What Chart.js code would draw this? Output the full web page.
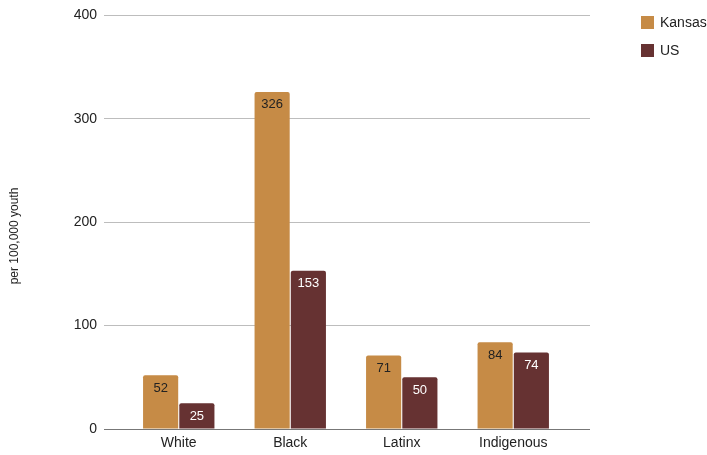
<!DOCTYPE html>
<html>
<head>
<meta charset="utf-8">
<script src="https://cdn.jsdelivr.net/npm/chart.js@4"></script>
<style>
  html, body { margin: 0; padding: 0; background: #fff; }
  #wrap { position: relative; width: 707px; height: 455px; }
  #legend { position: absolute; left: 641px; top: 15px; font: 14px "Liberation Sans", Arial, sans-serif; color: #222; }
  #legend div { display: flex; align-items: center; height: 14px; margin-bottom: 14px; }
  #legend span.box { display: inline-block; width: 13px; height: 13px; margin-right: 6px; }
</style>
</head>
<body>
<div id="wrap">
  <canvas id="chart" width="707" height="455"></canvas>
  <div id="legend"></div>
</div>
<script>
const categories = ['White', 'Black', 'Latinx', 'Indigenous'];
const kansasValues = [52, 326, 71, 84];
const usValues = [25, 153, 50, 74];
const seriesNames = ['Kansas', 'US'];
const seriesColors = ['#C68B46', '#663232'];
const labelColors = ['#222222', '#ffffff'];
const yTicks = [0, 100, 200, 300, 400];
const yTitle = 'per 100,000 youth';

const FONT = '"Liberation Sans", Arial, sans-serif';
const lineColor = v => (v === 0 ? '#777777' : '#bdbdbd');

// grid lines reach a bit past the bars on the right, plus the axis title
const gridExtend = {
  id: 'gridExtend',
  beforeDatasetsDraw(chart) {
    const { ctx, chartArea, scales } = chart;
    ctx.save();
    ctx.lineWidth = 1;
    yTicks.forEach(v => {
      // same pixel snapping as chart.js uses for its grid
      const y = Math.round(scales.y.getPixelForValue(v) - 0.5) + 0.5;
      ctx.strokeStyle = lineColor(v);
      ctx.beginPath();
      ctx.moveTo(chartArea.right, y);
      ctx.lineTo(chartArea.right + 21, y);
      ctx.stroke();
    });
    ctx.translate(15, 236);
    ctx.rotate(-Math.PI / 2);
    ctx.font = '12px ' + FONT;
    ctx.fillStyle = '#222';
    ctx.textAlign = 'center';
    ctx.textBaseline = 'middle';
    ctx.fillText(yTitle, 0, 0);
    ctx.restore();
  }
};

// value inside the top of each bar
const barLabels = {
  id: 'barLabels',
  afterDatasetsDraw(chart) {
    const { ctx } = chart;
    ctx.save();
    ctx.font = '13px ' + FONT;
    ctx.textAlign = 'center';
    ctx.textBaseline = 'middle';
    chart.data.datasets.forEach((ds, i) => {
      chart.getDatasetMeta(i).data.forEach((bar, j) => {
        ctx.fillStyle = labelColors[i];
        ctx.fillText(String(ds.data[j]), bar.x, bar.y + 13);
      });
    });
    ctx.restore();
  }
};

new Chart(document.getElementById('chart'), {
  type: 'bar',
  data: {
    labels: categories,
    datasets: [kansasValues, usValues].map((vals, i) => ({
      label: seriesNames[i],
      data: vals,
      backgroundColor: seriesColors[i],
      borderRadius: 2,
      borderSkipped: 'bottom',
      categoryPercentage: 0.65,
      barPercentage: 0.97
    }))
  },
  options: {
    responsive: false,
    animation: false,
    layout: { padding: { top: 15, right: 138, bottom: 0, left: 0 } },
    plugins: { legend: { display: false }, tooltip: { enabled: false } },
    scales: {
      x: {
        afterFit(scale) { scale.height = 26; },
        grid: { display: false, drawTicks: false },
        border: { display: false },
        ticks: { color: '#222', font: { size: 14, family: FONT }, padding: 6 }
      },
      y: {
        min: 0,
        max: 400,
        afterBuildTicks(scale) { scale.ticks = yTicks.map(v => ({ value: v })); },
        afterFit(scale) { scale.width = 123; },
        border: { display: false },
        grid: {
          color: ctx => lineColor(ctx.tick ? ctx.tick.value : 1),
          tickColor: ctx => lineColor(ctx.tick ? ctx.tick.value : 1),
          drawTicks: true,
          tickLength: 19
        },
        ticks: { color: '#222', font: { size: 14, family: FONT }, padding: 7 }
      }
    }
  },
  plugins: [gridExtend, barLabels]
});

const legend = document.getElementById('legend');
seriesNames.forEach((name, i) => {
  const row = document.createElement('div');
  row.innerHTML = '<span class="box" style="background:' + seriesColors[i] + '"></span>' + name;
  legend.appendChild(row);
});
</script>
</body>
</html>
